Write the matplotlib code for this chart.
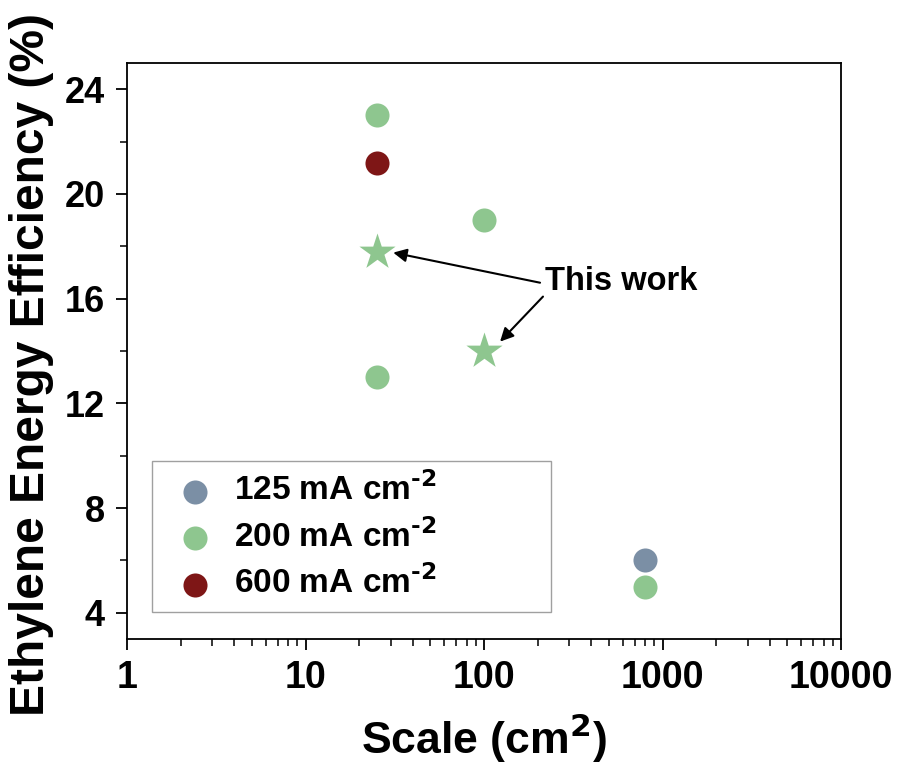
import matplotlib
matplotlib.use('Agg')
import matplotlib.pyplot as plt
from matplotlib.ticker import MultipleLocator, LogLocator, NullFormatter, FixedLocator

plt.rcParams['font.family'] = ['Liberation Sans', 'DejaVu Sans']
plt.rcParams['font.weight'] = 'bold'
plt.rcParams['mathtext.default'] = 'bf'

# data
labels = [r'125 mA cm$^{\text{-}2}$', r'200 mA cm$^{\text{-}2}$', r'600 mA cm$^{\text{-}2}$']
colors = ['#7b8fa5', '#8ec68f', '#7e1616']
scale_125 = [800]
eff_125 = [6.0]
scale_200 = [25, 100, 25, 800]
eff_200 = [23.0, 19.0, 13.0, 5.0]
scale_600 = [25]
eff_600 = [21.2]
work_scale = [25, 100]
work_eff = [17.8, 14.0]

fig = plt.figure(figsize=(9.02, 7.69), dpi=100)
ax = fig.add_axes([0.1408, 0.169, 0.7916, 0.749])

ax.scatter(scale_125, eff_125, s=300, color=colors[0], label=labels[0], zorder=3, linewidths=0)
ax.scatter(scale_200, eff_200, s=300, color=colors[1], label=labels[1], zorder=3, linewidths=0)
ax.scatter(scale_600, eff_600, s=300, color=colors[2], label=labels[2], zorder=3, linewidths=0)
ax.scatter(work_scale, work_eff, s=750, marker='*', color=colors[1], zorder=3, linewidths=0)

ax.set_xscale('log')
ax.set_xlim(1, 10000)
ax.set_ylim(3, 25)
ax.yaxis.set_major_locator(FixedLocator([4, 8, 12, 16, 20, 24]))
ax.yaxis.set_minor_locator(MultipleLocator(2))
ax.xaxis.set_major_locator(FixedLocator([1, 10, 100, 1000, 10000]))
ax.set_xticklabels(['1', '10', '100', '1000', '10000'])
ax.xaxis.set_minor_locator(LogLocator(base=10, subs=range(2, 10)))
ax.xaxis.set_minor_formatter(NullFormatter())

for s in ax.spines.values():
    s.set_linewidth(1.3)
ax.tick_params(which='major', direction='out', length=8, width=1.3)
ax.tick_params(which='minor', direction='out', length=5, width=1.1)
ax.tick_params(axis='y', which='major', labelsize=26, pad=8)
ax.tick_params(axis='x', which='major', labelsize=27, pad=7)

ax.set_xlabel('Scale (cm$^{2}$)', fontsize=32, fontweight='bold', labelpad=11)
ax.set_ylabel('Ethylene Energy Efficiency (%)', fontsize=34.5, fontweight='bold')
ax.yaxis.set_label_coords(-0.102, 0.476)

ax.text(585, 16.65, 'This work', fontsize=23.5, fontweight='bold', ha='center', va='center')
ax.annotate('', xy=(31, 17.76), xytext=(206, 16.61),
            arrowprops=dict(arrowstyle='-|>', color='black', lw=1.5, mutation_scale=20,
                            shrinkA=0, shrinkB=0))
ax.annotate('', xy=(123, 14.36), xytext=(214, 16.08),
            arrowprops=dict(arrowstyle='-|>', color='black', lw=1.5, mutation_scale=20,
                            shrinkA=0, shrinkB=0))

leg = ax.legend(loc='lower left', bbox_to_anchor=(0.035, 0.047, 0.559, 0.26), mode='expand',
                borderaxespad=0, fontsize=24, frameon=True, fancybox=False, handletextpad=0.2,
                borderpad=0.35, labelspacing=0.35, scatterpoints=1, handlelength=1.9)
leg.get_frame().set_edgecolor('#888888')
leg.get_frame().set_linewidth(1.0)

fig.savefig('out.png', dpi=100)
